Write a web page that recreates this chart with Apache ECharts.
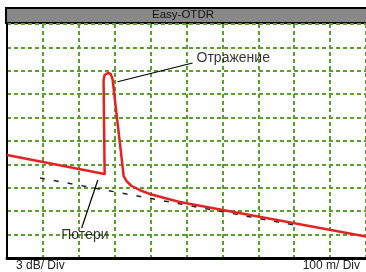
<!DOCTYPE html>
<html>
<head>
<meta charset="utf-8">
<script src="https://cdn.jsdelivr.net/npm/echarts@6/dist/echarts.min.js"></script>
<style>
	html,body{margin:0;padding:0;background:#fff;}
	#chart{width:366px;height:272px;}
</style>
</head>
<body>
<div id="chart"></div>
<script>
	/*data: distance in m, level in dB*/
	var traceX=[0,272,269,272,281,289,294,325,333,347,369,397,439,481,1000];
	var traceY=[13.2,10.77,22.8,23.46,23.72,23.59,22.95,10.51,9.87,9.23,8.72,8.21,7.69,7.18,2.76];
	var baseX=[92,800];
	var baseY=[10.26,4.23];
	var reflectLine=[[308,22.6],[517,25.0]];
	var lossLine=[[253,10.0],[208,3.85]];
	var labels=['Отражение','Потери'];
	var labelPos=[[528,25.6],[217,2.95]];
	var title='Easy-OTDR';
	var yUnit='3 dB/ Div';
	var xUnit='100 m/ Div';

	var pair=function(xs,ys){
		var out=[];
		for (var i = 0; i < xs.length; i++) {
			out.push([xs[i],ys[i]]);
		}
		return out;
	}
	var grn='#58a12a';
	var gridLine={show:true,lineStyle:{color:grn,width:2,type:[4,3]}};

	var myChart = echarts.init(document.getElementById('chart'));
	var option = {
		animation:false,
		grid:{left:7,right:-1,top:24,bottom:14},
		xAxis:{
			type:'value',min:0,max:1000,interval:100,
			axisLine:{show:true,onZero:false,lineStyle:{color:'#000',width:3}},
			axisTick:{show:false},axisLabel:{show:false},
			splitLine:gridLine
		},
		yAxis:{
			type:'value',min:0,max:30,interval:3,
			axisLine:{show:true,onZero:false,lineStyle:{color:'#000',width:2}},
			axisTick:{show:false},axisLabel:{show:false},
			splitLine:gridLine
		},
		graphic:[
			{type:'rect',shape:{x:6,y:8,width:362,height:15},style:{fill:'#888',stroke:'#000',lineWidth:2}},
			{type:'text',left:'center',top:9,style:{text:title,fill:'#111',font:'11.5px "Liberation Sans", Arial, sans-serif'}},
			{type:'text',left:16,top:260,style:{text:yUnit,fill:'#222',font:'12px "Liberation Sans", Arial, sans-serif'}},
			{type:'text',right:6,top:260,style:{text:xUnit,fill:'#222',font:'12px "Liberation Sans", Arial, sans-serif'}}
		],
		series:[
			{
				type:'line',data:pair(baseX,baseY),symbol:'none',z:2,
				lineStyle:{color:'#222',width:1.5,type:[5,9]}
			},
			{
				type:'line',data:pair(traceX,traceY),symbol:'none',z:3,
				lineStyle:{color:'#e52222',width:2.5,join:'round'}
			},
			{
				type:'line',data:reflectLine,symbol:'none',z:4,
				lineStyle:{color:'#000',width:1.2}
			},
			{
				type:'line',data:lossLine,symbol:'none',z:4,
				lineStyle:{color:'#000',width:1.2}
			},
			{
				type:'scatter',symbolSize:0,z:5,
				data:[
					{value:labelPos[0],label:{show:true,formatter:labels[0],position:'right',distance:0}},
					{value:labelPos[1],label:{show:true,formatter:labels[1],position:'inside'}}
				],
				label:{color:'#000',fontSize:14,fontFamily:'"Liberation Sans", Arial, sans-serif'}
			}
		]
	};
	myChart.setOption(option);
</script>
</body>
</html>
